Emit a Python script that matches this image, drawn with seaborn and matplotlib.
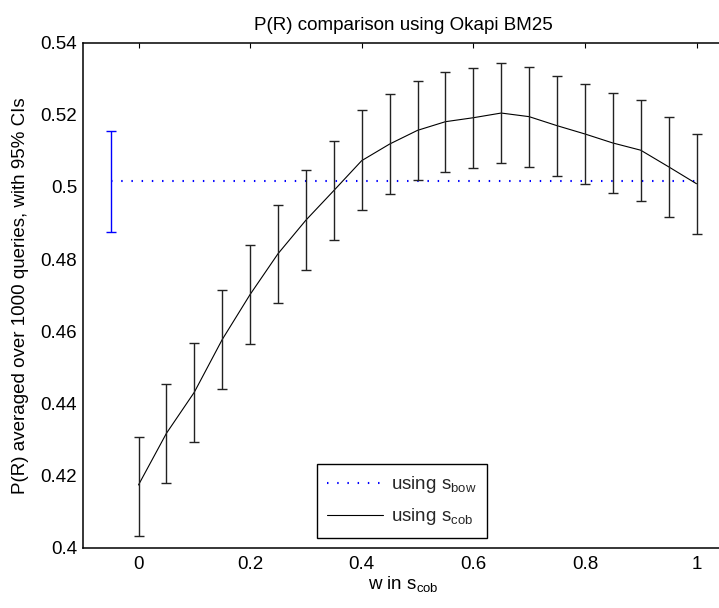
import matplotlib
matplotlib.use("Agg")
import matplotlib.pyplot as plt
import seaborn as sns
import pandas as pd

# ---- data ----
w = [0.0, 0.05, 0.10, 0.15, 0.20, 0.25, 0.30, 0.35, 0.40, 0.45, 0.50,
     0.55, 0.60, 0.65, 0.70, 0.75, 0.80, 0.85, 0.90, 0.95, 1.0]
cob_mean = [0.4174, 0.4317, 0.4431, 0.4577, 0.4702, 0.4815, 0.4908, 0.4990,
            0.5073, 0.5119, 0.5157, 0.5181, 0.5192, 0.5205, 0.5195, 0.5170,
            0.5147, 0.5122, 0.5102, 0.5056, 0.5009]
cob_lo = [0.4033, 0.4180, 0.4293, 0.4439, 0.4565, 0.4678, 0.4771, 0.4852,
          0.4937, 0.4980, 0.5019, 0.5042, 0.5054, 0.5066, 0.5056, 0.5031,
          0.5009, 0.4983, 0.4962, 0.4918, 0.4869]
cob_hi = [0.4308, 0.4455, 0.4567, 0.4714, 0.4839, 0.4951, 0.5046, 0.5128,
          0.5213, 0.5257, 0.5295, 0.5318, 0.5331, 0.5344, 0.5334, 0.5308,
          0.5286, 0.5261, 0.5240, 0.5194, 0.5147]
bow_x = -0.05
bow_mean = 0.5016
bow_lo = 0.4874
bow_hi = 0.5155

x_ticks = [0, 0.2, 0.4, 0.6, 0.8, 1.0]
x_ticklabels = ["0", "0.2", "0.4", "0.6", "0.8", "1"]
y_ticks = [0.40, 0.42, 0.44, 0.46, 0.48, 0.50, 0.52, 0.54]
y_ticklabels = ["0.4", "0.42", "0.44", "0.46", "0.48", "0.5", "0.52", "0.54"]

title = "P(R) comparison using Okapi BM25"
xlabel = r"w in s$_{\mathrm{cob}}$"
ylabel = "P(R) averaged over 1000 queries, with 95% CIs"
label_bow = r"using s$_{\mathrm{bow}}$"
label_cob = r"using s$_{\mathrm{cob}}$"

# ---- style ----
sns.set_theme(style="white")
plt.rcParams["font.family"] = ["Liberation Sans", "DejaVu Sans"]
plt.rcParams["mathtext.fontset"] = "custom"
plt.rcParams["mathtext.rm"] = "Liberation Sans"
plt.rcParams["mathtext.it"] = "Liberation Sans:italic"
plt.rcParams["mathtext.bf"] = "Liberation Sans:bold"

FS = 13.5

bow_df = pd.DataFrame({"w": [bow_x] + w, "p": [bow_mean] * (len(w) + 1)})
cob_df = pd.DataFrame({"w": w, "p": cob_mean, "lo": cob_lo, "hi": cob_hi})

fig = plt.figure(figsize=(7.19, 6.08), dpi=100)
ax = fig.add_axes([82.7 / 719, (608 - 547.7) / 608, 641.7 / 719, 505 / 608])

sns.lineplot(data=bow_df, x="w", y="p", ax=ax, color="#0000ff",
             linewidth=1.5, linestyle=(0, (0.7, 4.2)), label=label_bow,
             estimator=None, sort=False)
ax.errorbar([bow_x], [bow_mean], yerr=[[bow_mean - bow_lo], [bow_hi - bow_mean]],
            fmt="none", ecolor="#0000ff", elinewidth=1.0, capsize=3.6, capthick=1.0)

sns.lineplot(data=cob_df, x="w", y="p", ax=ax, color="black",
             linewidth=0.8, label=label_cob, estimator=None, sort=False)
ax.errorbar(cob_df["w"], cob_df["p"],
            yerr=[cob_df["p"] - cob_df["lo"], cob_df["hi"] - cob_df["p"]],
            fmt="none", ecolor="#222222", elinewidth=1.0, capsize=3.6, capthick=1.0)

ax.set_xlim(-0.1, 1.05)
ax.set_ylim(0.4, 0.54)
ax.set_xticks(x_ticks)
ax.set_xticklabels(x_ticklabels)
ax.set_yticks(y_ticks)
ax.set_yticklabels(y_ticklabels)
ax.tick_params(direction="in", length=3.6, width=0.8, top=True, right=True,
               labelsize=FS, colors="black", pad=4)
ax.tick_params(axis="x", pad=6)
for s in ax.spines.values():
    s.set_color("black")
    s.set_linewidth(1.1)

ax.set_title(title, fontsize=FS, pad=9, color="black")
ax.set_xlabel(xlabel, fontsize=FS, labelpad=1, color="black")
ax.set_ylabel(ylabel, fontsize=FS, labelpad=8, color="black")

leg = ax.legend(loc="lower right", bbox_to_anchor=(0.63, 0.0198),
                borderaxespad=0, fontsize=FS, frameon=True, fancybox=False,
                handlelength=3.0, handletextpad=0.4, borderpad=0.55,
                labelspacing=0.6, framealpha=1)
leg.get_frame().set_edgecolor("black")
leg.get_frame().set_linewidth(1.0)

fig.savefig("out.png", dpi=100)
